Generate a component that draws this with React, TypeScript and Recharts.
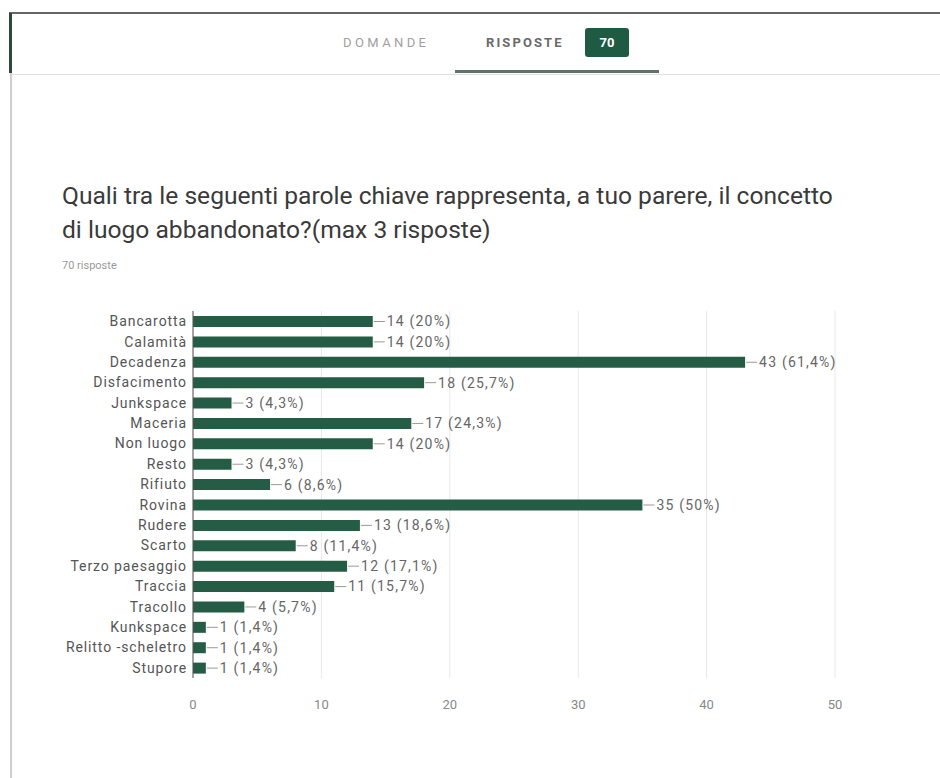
import React from 'react';
import { BarChart, Bar, XAxis, YAxis, CartesianGrid, LabelList } from 'recharts';

const categories = [
  'Bancarotta', 'Calamità', 'Decadenza', 'Disfacimento', 'Junkspace', 'Maceria',
  'Non luogo', 'Resto', 'Rifiuto', 'Rovina', 'Rudere', 'Scarto',
  'Terzo paesaggio', 'Traccia', 'Tracollo', 'Kunkspace', 'Relitto -scheletro', 'Stupore',
];
const counts = [14, 14, 43, 18, 3, 17, 14, 3, 6, 35, 13, 8, 12, 11, 4, 1, 1, 1];
const percents = [
  '20%', '20%', '61,4%', '25,7%', '4,3%', '24,3%', '20%', '4,3%', '8,6%', '50%',
  '18,6%', '11,4%', '17,1%', '15,7%', '5,7%', '1,4%', '1,4%', '1,4%',
];
const xTicks = [0, 10, 20, 30, 40, 50];

const data = categories.map((c, i) => ({
  name: c,
  value: counts[i],
  label: `${counts[i]} (${percents[i]})`,
}));

const FONT = 'Roboto, "Noto Sans", Arial, sans-serif';
const BAR = '#245c45';

const ValueLabel = (props: any) => {
  const { x, y, width, height, index } = props;
  const ex = x + width;
  const cy = y + height / 2;
  return (
    <g>
      <line x1={ex + 1} y1={cy} x2={ex + 12} y2={cy} stroke="#9a9a9a" strokeWidth={1} />
      <text
        x={ex + 14}
        y={cy}
        dy="0.35em"
        fontSize={14}
        letterSpacing={1.2}
        fill="#666"
        fontFamily={FONT}
      >
        {data[index].label}
      </text>
    </g>
  );
};

export default function App() {
  return (
    <div
      style={{
        position: 'absolute',
        left: 0,
        top: 0,
        width: 940,
        height: 778,
        background: '#fff',
        overflow: 'hidden',
        fontFamily: FONT,
      }}
    >
      {/* top border */}
      <div style={{ position: 'absolute', left: 9, top: 12, width: 931, height: 2, background: '#666' }} />
      {/* left borders */}
      <div style={{ position: 'absolute', left: 9, top: 13, width: 3, height: 60, background: '#2c4a3c' }} />
      <div style={{ position: 'absolute', left: 10, top: 73, width: 2, height: 705, background: '#cfcfcf' }} />
      {/* tabs */}
      <div style={{ position: 'absolute', left: 343, top: 35, fontSize: 13, color: '#a0a0a0', letterSpacing: 3.4 }}>
        DOMANDE
      </div>
      <div style={{ position: 'absolute', left: 486, top: 35, fontSize: 13, color: '#6a6a6a', fontWeight: 700, letterSpacing: 2.1 }}>
        RISPOSTE
      </div>
      <div
        style={{
          position: 'absolute',
          left: 585,
          top: 28,
          width: 44,
          height: 29,
          background: '#1f5b43',
          borderRadius: 3,
          color: '#fff',
          fontSize: 13,
          fontWeight: 700,
          display: 'flex',
          alignItems: 'center',
          justifyContent: 'center',
        }}
      >
        70
      </div>
      <div style={{ position: 'absolute', left: 455, top: 70, width: 204, height: 3, background: '#5f7369' }} />
      <div style={{ position: 'absolute', left: 12, top: 74, width: 928, height: 1, background: '#e0e0e0' }} />
      {/* title */}
      <div
        style={{
          position: 'absolute',
          left: 62,
          top: 179,
          width: 860,
          fontSize: 24.6,
          lineHeight: '34px',
          color: '#3a3a3a',
          whiteSpace: 'nowrap',
        }}
      >
        Quali tra le seguenti parole chiave rappresenta, a tuo parere, il concetto
        <br />
        di luogo abbandonato?(max 3 risposte)
      </div>
      <div style={{ position: 'absolute', left: 62, top: 259, fontSize: 11, color: '#9a9a9a' }}>70 risposte</div>

      <div style={{ position: 'absolute', left: 0, top: 290 }}>
        <BarChart
          width={880}
          height={440}
          data={data}
          layout="vertical"
          margin={{ top: 21, right: 45, bottom: 2, left: 0 }}
          barSize={11}
        >
          <CartesianGrid horizontal={false} stroke="#e8e8e8" />
          <XAxis
            type="number"
            domain={[0, 50]}
            ticks={xTicks}
            axisLine={false}
            tickLine={false}
            tickMargin={16}
            height={50}
            tick={{ fontSize: 13, fill: '#888', fontFamily: FONT }}
          />
          <YAxis
            type="category"
            dataKey="name"
            width={193}
            axisLine={{ stroke: '#555' }}
            tickLine={false}
            tickMargin={0}
            interval={0}
            tick={{ fontSize: 14, fill: '#555', fontFamily: FONT, letterSpacing: 0.9 } as any}
          />
          <Bar dataKey="value" fill={BAR} isAnimationActive={false}>
            <LabelList dataKey="value" content={<ValueLabel />} />
          </Bar>
        </BarChart>
      </div>
    </div>
  );
}
